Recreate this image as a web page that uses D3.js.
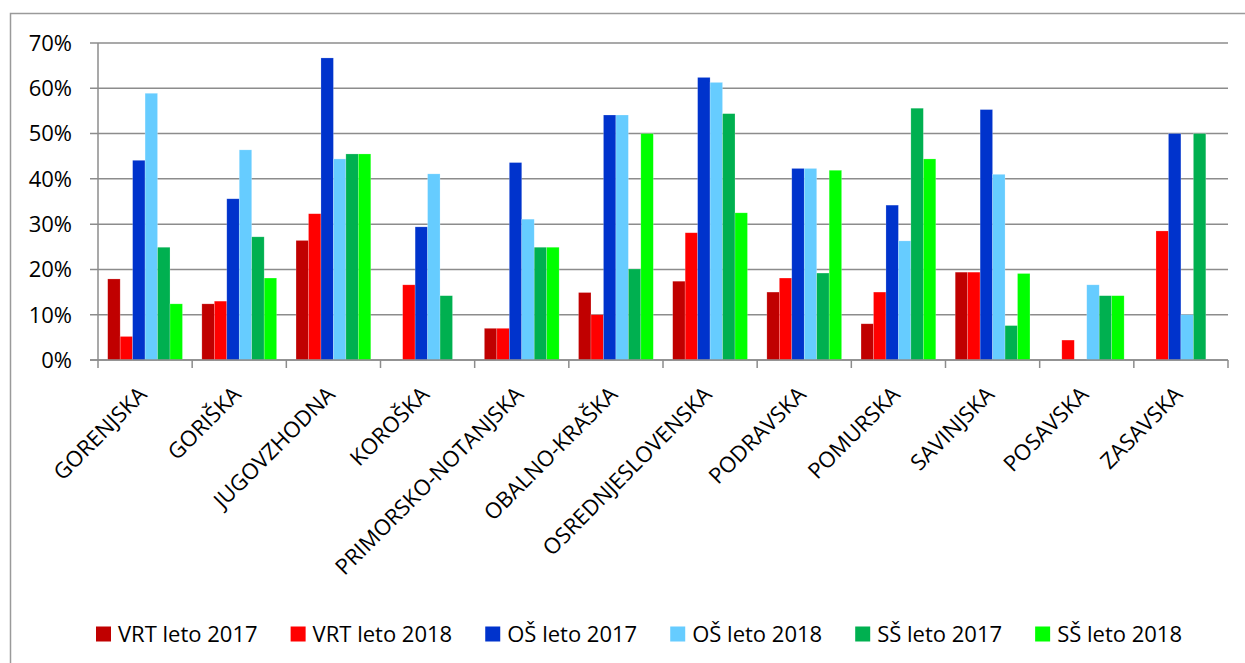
<!DOCTYPE html>
<html>
<head>
<meta charset="utf-8">
<script src="https://cdn.jsdelivr.net/npm/d3@7"></script>
<style>
  body { margin: 0; background: #fff; }
  text { font-family: "Open Sans", "Noto Sans", sans-serif; fill: #000; }
</style>
</head>
<body>
<div id="chart"></div>
<script>
// regions
var regions = ["GORENJSKA", "GORIŠKA", "JUGOVZHODNA", "KOROŠKA", "PRIMORSKO-NOTANJSKA",
  "OBALNO-KRAŠKA", "OSREDNJESLOVENSKA", "PODRAVSKA", "POMURSKA", "SAVINJSKA", "POSAVSKA", "ZASAVSKA"];

var seriesNames = ["VRT leto 2017", "VRT leto 2018", "OŠ leto 2017", "OŠ leto 2018", "SŠ leto 2017", "SŠ leto 2018"];
var seriesColors = ["#C00000", "#FF0000", "#0033CC", "#66CCFF", "#00B050", "#00FF00"];

// values in %, null = no bar
var vrt2017 = [17.9, 12.4, 26.4, null, 7.0, 14.9, 17.4, 15.0, 8.0, 19.4, null, null];
var vrt2018 = [5.2, 13.0, 32.3, 16.6, 7.0, 10.0, 28.1, 18.1, 15.0, 19.4, 4.4, 28.5];
var os2017  = [44.1, 35.6, 66.7, 29.4, 43.6, 54.1, 62.4, 42.3, 34.2, 55.3, null, 50.0];
var os2018  = [58.9, 46.4, 44.4, 41.1, 31.1, 54.1, 61.3, 42.3, 26.3, 41.0, 16.6, 10.0];
var ss2017  = [24.9, 27.2, 45.5, 14.2, 24.9, 20.1, 54.4, 19.2, 55.6, 7.6, 14.2, 50.0];
var ss2018  = [12.4, 18.1, 45.5, null, 24.9, 50.0, 32.5, 41.9, 44.4, 19.1, 14.2, null];

var yTicks = [0, 10, 20, 30, 40, 50, 60, 70];

var allSeries = [vrt2017, vrt2018, os2017, os2018, ss2017, ss2018];

var W = 1245, H = 663;
var margin = {top: 43, right: 17, bottom: 303, left: 98},
    width = W - margin.left - margin.right,
    height = H - margin.top - margin.bottom;

var root = d3.select("#chart").append("svg")
  .attr("width", W)
  .attr("height", H);

// outer frame
root.append("rect")
  .attr("x", 10.5).attr("y", 13.5)
  .attr("width", W).attr("height", H)
  .attr("fill", "none")
  .attr("stroke", "#9a9a9a")
  .attr("stroke-width", 1.5);

var svg = root.append("g")
  .attr("transform", "translate(" + margin.left + "," + margin.top + ")");

var x0 = d3.scaleBand().domain(regions).range([0, width]).padding(0);
var x1 = d3.scaleBand().domain(d3.range(6))
  .range([x0.bandwidth() * 0.103, x0.bandwidth() * 0.897]).padding(0);
var y = d3.scaleLinear().domain([0, 70]).range([height, 0]);

// gridlines
svg.append("g").selectAll("line")
  .data(yTicks)
  .enter().append("line")
  .attr("x1", -8).attr("x2", width)
  .attr("y1", function(d){ return y(d) }).attr("y2", function(d){ return y(d) })
  .attr("stroke", "#8c8c8c")
  .attr("stroke-width", 1.5);

// y labels
svg.append("g").selectAll("text")
  .data(yTicks)
  .enter().append("text")
  .attr("x", -26)
  .attr("y", function(d){ return y(d) })
  .attr("dy", "0.36em")
  .attr("text-anchor", "end")
  .style("font-size", "22px")
  .text(function(d){ return d + "%" });

// left axis line
svg.append("line")
  .attr("x1", 0).attr("x2", 0).attr("y1", 0).attr("y2", height)
  .attr("stroke", "#8c8c8c").attr("stroke-width", 1.5);

// bars
var groups = svg.append("g").selectAll("g")
  .data(regions)
  .enter().append("g")
  .attr("transform", function(d){ return "translate(" + x0(d) + ",0)" });

groups.selectAll("rect")
  .data(function(d, i){
    return allSeries.map(function(s, k){ return {k: k, v: s[i]} }).filter(function(e){ return e.v != null });
  })
  .enter().append("rect")
  .attr("x", function(d){ return x1(d.k) })
  .attr("width", x1.bandwidth())
  .attr("y", function(d){ return y(d.v) })
  .attr("height", function(d){ return height - y(d.v) })
  .attr("fill", function(d){ return seriesColors[d.k] })
  .attr("stroke", "rgba(255,255,255,0.35)")
  .attr("stroke-width", 0.6);

// bottom axis line and ticks
svg.append("line")
  .attr("x1", -8).attr("x2", width).attr("y1", height).attr("y2", height)
  .attr("stroke", "#8c8c8c").attr("stroke-width", 1.5);

svg.append("g").selectAll("line")
  .data(d3.range(regions.length + 1))
  .enter().append("line")
  .attr("x1", function(i){ return i * x0.bandwidth() })
  .attr("x2", function(i){ return i * x0.bandwidth() })
  .attr("y1", height).attr("y2", height + 8)
  .attr("stroke", "#8c8c8c").attr("stroke-width", 1.5);

// category labels
svg.append("g").selectAll("text")
  .data(regions)
  .enter().append("text")
  .attr("text-anchor", "end")
  .style("font-size", "22px")
  .attr("transform", function(d){
    var cx = x0(d) + x0.bandwidth() / 2 + 3;
    return "translate(" + cx + "," + (height + 36) + ") rotate(-45)";
  })
  .text(function(d){ return d });

// legend, spread over 96..1182 like the original
var legend = root.append("g").attr("transform", "translate(0,634)");
var items = legend.selectAll("g")
  .data(seriesNames)
  .enter().append("g");

items.append("rect")
  .attr("y", -7.5).attr("width", 15).attr("height", 15)
  .attr("fill", function(d, i){ return seriesColors[i] });

items.append("text")
  .attr("x", 22)
  .attr("dy", "0.36em")
  .style("font-size", "22px")
  .text(function(d){ return d });

var widths = [];
items.each(function(){
  widths.push(22 + d3.select(this).select("text").node().getComputedTextLength());
});
var gap = ((1182 - 96) - d3.sum(widths)) / (widths.length - 1);
var pos = 96, offs = [];
widths.forEach(function(w){ offs.push(pos); pos += w + gap; });
items.attr("transform", function(d, i){ return "translate(" + offs[i] + ",0)" });
</script>
</body>
</html>
